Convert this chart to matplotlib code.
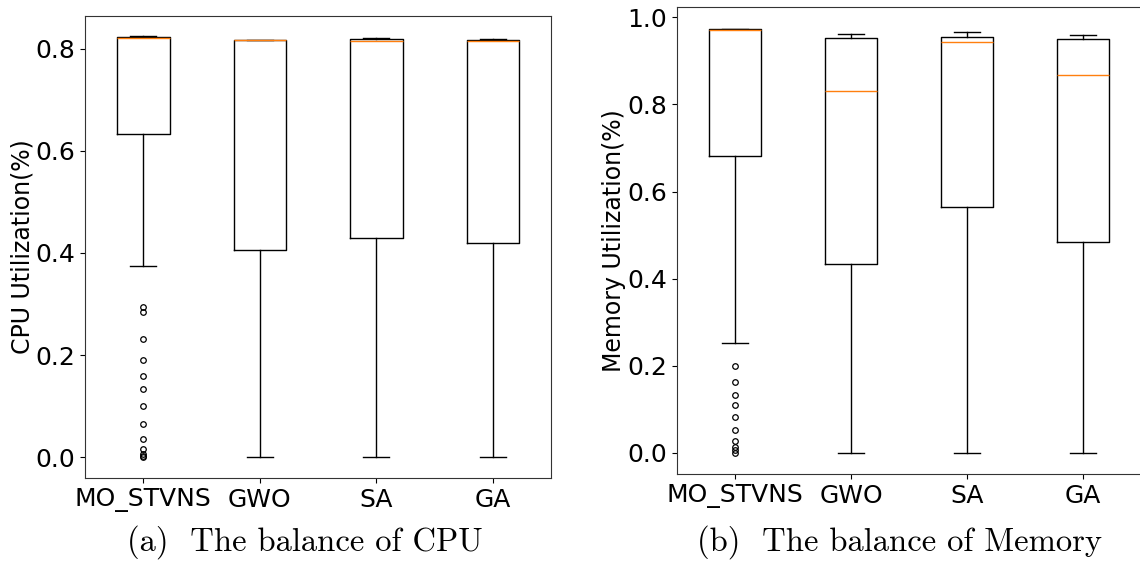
import matplotlib
matplotlib.use("Agg")
import matplotlib.pyplot as plt

algos = ["MO_STVNS", "GWO", "SA", "GA"]

# CPU utilization box statistics
cpu_q1 = [0.633, 0.406, 0.429, 0.420]
cpu_med = [0.822, 0.817, 0.816, 0.816]
cpu_q3 = [0.823, 0.818, 0.820, 0.818]
cpu_lo = [0.375, 0.0, 0.0, 0.0]
cpu_hi = [0.825, 0.818, 0.822, 0.820]
cpu_fliers = [[0.294, 0.284, 0.231, 0.190, 0.159, 0.133, 0.100, 0.065,
               0.035, 0.016, 0.006, 0.003, 0.0], [], [], []]

# Memory utilization box statistics
mem_q1 = [0.681, 0.433, 0.564, 0.484]
mem_med = [0.972, 0.831, 0.943, 0.868]
mem_q3 = [0.973, 0.952, 0.955, 0.950]
mem_lo = [0.252, 0.0, 0.0, 0.0]
mem_hi = [0.973, 0.962, 0.966, 0.959]
mem_fliers = [[0.199, 0.162, 0.133, 0.110, 0.082, 0.052, 0.027, 0.013,
               0.006, 0.0], [], [], []]


def make_stats(q1, med, q3, lo, hi, fliers):
    return [dict(label=a, q1=q1[i], med=med[i], q3=q3[i], whislo=lo[i],
                 whishi=hi[i], fliers=fliers[i]) for i, a in enumerate(algos)]


def draw(ax, stats, ylabel, ylim, yticks):
    ax.bxp(stats, widths=0.45,
           boxprops=dict(color="black", linewidth=1.0),
           whiskerprops=dict(color="black", linewidth=1.0),
           capprops=dict(color="black", linewidth=1.0),
           medianprops=dict(color="#ff7f0e", linewidth=1.0),
           flierprops=dict(marker="o", markersize=4, markerfacecolor="none",
                           markeredgecolor="black", markeredgewidth=0.9))
    ax.set_ylim(*ylim)
    ax.set_yticks(yticks)
    ax.tick_params(labelsize=18)
    ax.set_ylabel(ylabel, fontsize=17, labelpad=1)
    for s in ax.spines.values():
        s.set_color("#333333")


fig = plt.figure(figsize=(11.4, 5.64), dpi=100)
ax1 = fig.add_axes([0.0746, 0.1525, 0.4088, 0.8197])
ax2 = fig.add_axes([0.5939, 0.1596, 0.407, 0.828])

draw(ax1, make_stats(cpu_q1, cpu_med, cpu_q3, cpu_lo, cpu_hi, cpu_fliers),
     "CPU Utilization(%)", (-0.041, 0.865), [0.0, 0.2, 0.4, 0.6, 0.8])
draw(ax2, make_stats(mem_q1, mem_med, mem_q3, mem_lo, mem_hi, mem_fliers),
     "Memory Utilization(%)", (-0.049, 1.024), [0.0, 0.2, 0.4, 0.6, 0.8, 1.0])

fig.text(0.267, 0.024, "(a)  The balance of CPU", family="cmr10",
         fontsize=23.5, ha="center", va="baseline")
fig.text(0.789, 0.024, "(b)  The balance of Memory", family="cmr10",
         fontsize=23.5, ha="center", va="baseline")

fig.savefig("out.png", dpi=100)
